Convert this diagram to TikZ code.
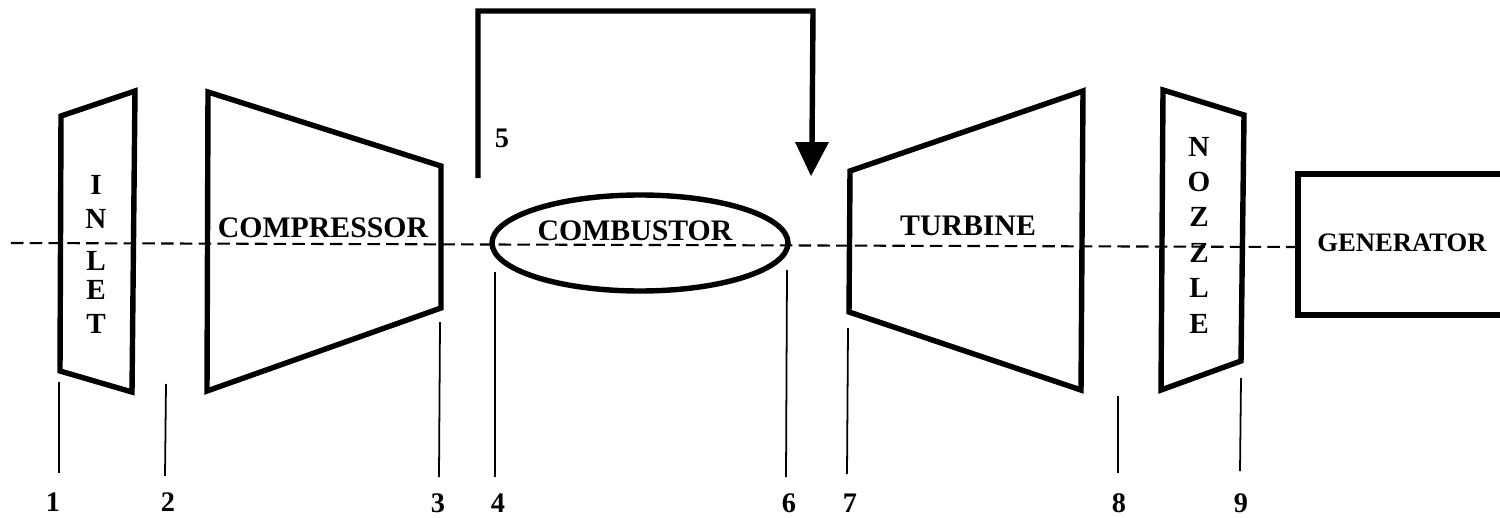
\documentclass[tikz,border=0pt]{standalone}
\usepackage{fontspec}
\setmainfont{Liberation Serif}
\begin{document}
\begin{tikzpicture}[x=0.48pt,y=-0.48pt,
  part/.style={draw=black,line width=2.6pt,line join=miter},
  axisline/.style={draw=black,line width=1pt,dash pattern=on 6pt off 3pt},
  station/.style={draw=black,line width=0.85pt},
  lab/.style={font=\bfseries\fontsize{14.3pt}{16pt}\selectfont,inner sep=0pt},
  smalllab/.style={font=\bfseries\fontsize{12.8pt}{15pt}\selectfont,inner sep=0pt},
  num/.style={font=\bfseries\fontsize{13.6pt}{15pt}\selectfont,inner sep=0pt},
  vert/.style={font=\bfseries\fontsize{14pt}{16pt}\selectfont,inner sep=0pt,align=center}]
\useasboundingbox (0,0) rectangle (1500,517);
\fill[white] (0,0) rectangle (1500,517);
% axis
\coordinate (axL) at (11,243);
\coordinate (axR) at (1296,247);
\draw[axisline] (axL) -- (axR);
% components
\draw[part] (61,116) -- (135,91) -- (132,392) -- (60,371) -- cycle;
\draw[part] (208,92) -- (441,166) -- (441,308) -- (207,391) -- cycle;
\draw[part] (640,243) ellipse [x radius=148,y radius=48];
\draw[part] (850,171) -- (1083,91) -- (1081,390) -- (849,312) -- cycle;
\draw[part] (1163,90) -- (1244,115) -- (1241,361) -- (1161,390) -- cycle;
\draw[part,line width=2.8pt] (1512,174) -- (1298,174) -- (1298,315) -- (1512,315);
% bypass
\coordinate (bypassStart) at (478,178);
\coordinate (bypassA) at (478,11);
\coordinate (bypassB) at (813,11);
\coordinate (bypassEnd) at (811,176);
\draw[part] (bypassStart) -- (bypassA) -- (bypassB) -- (812,145);
\fill[black] (795,142) -- (829,142) -- (bypassEnd) -- cycle;
% labels
\node[vert] (inlet) at (96,254) {I\\[0.3pt]N\\[4.2pt]L\\[-2.1pt]E\\[0.3pt]T};
\node[lab] (compressor) at (323,228) {COMPRESSOR};
\node[lab] (combustor) at (635,231) {COMBUSTOR};
\node[lab] (turbine) at (968,226) {TURBINE};
\node[vert,font=\bfseries\fontsize{14pt}{17pt}\selectfont] (nozzle) at (1199,235) {N\\O\\Z\\Z\\L\\E};
\node[smalllab] (generator) at (1402,243) {GENERATOR};
% station numbers
\node[num] (n1) at (53,502) {1};
\node[num] (n2) at (168,502) {2};
\node[num] (n3) at (438,503) {3};
\node[num] (n4) at (498,503) {4};
\node[num] (n5) at (502,138) {5};
\node[num] (n6) at (789,503) {6};
\node[num] (n7) at (850,503) {7};
\node[num] (n8) at (1119,503) {8};
\node[num] (n9) at (1241,503) {9};
% station lines
\coordinate (s1) at (59,382); \draw[station] (s1) -- (59,473);
\coordinate (s2) at (166,384); \draw[station] (s2) -- (165,476);
\coordinate (s3) at (440,322); \draw[station] (s3) -- (439,477);
\coordinate (s4) at (495,272); \draw[station] (s4) -- (495,477);
\coordinate (s6) at (787,270); \draw[station] (s6) -- (786,477);
\coordinate (s7) at (848,328); \draw[station] (s7) -- (847,474);
\coordinate (s8) at (1118,396); \draw[station] (s8) -- (1118,473);
\coordinate (s9) at (1241,378); \draw[station] (s9) -- (1240,471);
\end{tikzpicture}
\end{document}
